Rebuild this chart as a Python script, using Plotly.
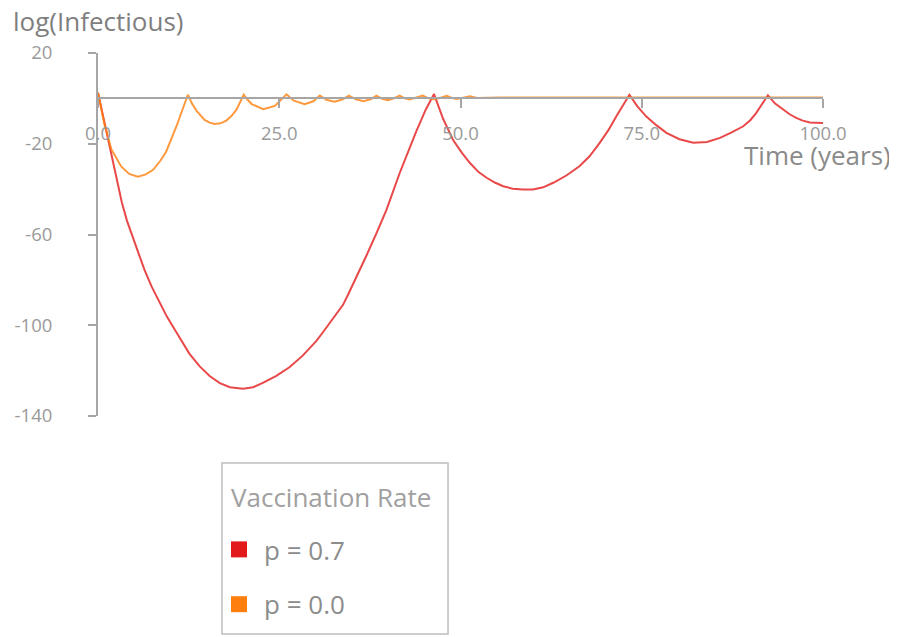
import plotly.graph_objects as go

# ---- data ----
red_t = [0, 0.7, 1.4, 2.3, 3.3, 4.0, 4.8, 5.6, 6.4, 7.4, 8.5, 9.5, 10.6, 11.6, 12.6, 14.0,
         15.4, 16.8, 18.2, 20.0, 21.4, 22.8, 24.6, 26.4, 27.3, 28.2, 29.1, 30.1, 31.0,
         32.0, 32.9, 33.8, 34.6, 35.4, 36.2, 37.0, 38.4, 39.8, 41.6, 43.9, 45.2, 46.35,
         47.6, 49.0, 50.2, 51.3, 52.5, 53.6, 54.8, 55.9, 57.2, 58.6, 60.0, 61.4, 62.8,
         64.6, 66.4, 67.8, 69.2, 70.4, 71.5, 72.4, 73.3, 74.4, 75.6, 77.0, 78.4, 80.2,
         82.1, 84.0, 85.8, 87.4, 89.0, 90.0, 90.8, 91.6, 92.4, 93.4, 94.5, 95.4, 96.3,
         97.2, 98.2, 99.1, 100]
red_v = [2.5, -8, -19, -32, -46, -54, -61, -68.5, -75.5, -83, -90, -96.2, -102, -107.5,
         -112.5, -118, -122.4, -125.5, -127.3, -128, -127.3, -125.3, -122.3, -118.5,
         -116.2, -113.5, -110.4, -107, -103.2, -99, -95.2, -91, -85.8, -80.5, -75,
         -69.5, -59.5, -49, -33, -14.5, -5, 1.9, -9, -18.5, -24, -28.5, -32.5, -35,
         -37.2, -38.7, -39.8, -40.2, -40.2, -39.2, -37.2, -34, -29.9, -25.5, -19.6, -14,
         -7.9, -3, 1.6, -3.5, -7.9, -11.8, -15.2, -18, -19.6, -19.2, -17.4, -15, -12.3,
         -9.5, -6.4, -2.5, 1.3, -2.3, -5, -7, -8.6, -9.8, -10.6, -10.8, -10.8]

orange_t = [0, 0.9, 1.85, 3.2, 4.3, 5.5, 6.6, 7.6, 8.6, 9.4, 10.8, 11.7, 12.4, 13.0, 13.6,
            14.7, 15.4, 16.1, 16.9, 17.7, 18.4, 19.1, 20.1, 20.6, 21.2, 22.8, 24.4, 26.0,
            27.0, 28.5, 29.7, 30.6, 31.5, 32.6, 33.7, 34.6, 35.6, 36.6, 37.6, 38.4, 39.2,
            40.0, 40.8, 41.6, 42.3, 43.0, 43.9, 44.8, 45.5, 46.2, 47.2, 48.1, 48.8, 49.4,
            50.4, 51.3, 52.3, 53.5, 54.3, 55.2, 60, 70, 80, 90, 100]
orange_v = [2.5, -11.6, -22.5, -30, -33.3, -34.5, -33.5, -31.5, -27.5, -23.5, -12.5, -4.5,
            1.6, -2.5, -5.5, -9.5, -10.7, -11.3, -11.0, -9.8, -7.8, -5, 1.6, -0.5, -2.5,
            -4.8, -3.3, 1.8, -1, -2.6, -1.3, 1.3, -0.6, -1.5, -0.5, 1.2, -0.4, -1.2, -0.4,
            1.2, -0.2, -0.8, 0, 1.2, 0, -0.5, 0.2, 1.2, 0.1, -0.4, 0.2, 1.1, 0.2, -0.3,
            0.3, 0.9, 0.2, 0.3, 0.6, 0.4, 0.4, 0.4, 0.4, 0.4, 0.4]

series_names = ["p = 0.7", "p = 0.0"]
line_colors = ["rgba(228,26,28,0.8)", "rgba(255,127,14,0.8)"]
legend_colors = ["#e31a1c", "#ff7f0e"]

y_ticks = [20, -20, -60, -100, -140]
y_tick_text = ["20", "-20", "-60", "-100", "-140"]
x_ticks = [0, 25, 50, 75, 100]

FONT = "Open Sans"
GRAY = "#a6a6a6"

fig = go.Figure()
for name, t, v, lc in zip(series_names, [red_t, orange_t], [red_v, orange_v], line_colors):
    fig.add_trace(go.Scatter(x=t, y=v, mode="lines", name=name,
                             line=dict(color=lc, width=2), showlegend=False,
                             hoverinfo="skip"))
# legend entries (square swatches)
for i, (name, c) in enumerate(zip(series_names, legend_colors)):
    fig.add_trace(go.Scatter(x=[None], y=[None], mode="markers", name=name,
                             legendgroup=f"g{i}",
                             marker=dict(symbol="square", size=16, color=c)))

# page body has an 8px margin: figure is drawn 8px in from the top-left corner
fig.update_layout(
    width=889, height=629,
    margin=dict(l=90, r=74, t=45, b=221, autoexpand=False),
    paper_bgcolor="white", plot_bgcolor="white",
    font=dict(family=FONT, color="#8c8c8c"),
    showlegend=True,
    legend=dict(
        font=dict(size=26, color="#8c8c8c"),
        x=0.160, y=-0.303, xanchor="left", yanchor="top",
        borderwidth=0, bgcolor="rgba(0,0,0,0)",
        tracegroupgap=18, itemwidth=40,
    ),
    xaxis=dict(
        range=[0, 100], tickvals=x_ticks, tickformat=".1f",
        anchor="free", position=0.875,
        showline=True, linecolor=GRAY, linewidth=2,
        ticks="outside", ticklen=9, tickcolor=GRAY, tickwidth=2,
        showgrid=False, zeroline=False, automargin=False,
        tickfont=dict(size=18.5, color="#9a9a9a"), ticklabelstandoff=9,
    ),
    yaxis=dict(
        range=[-140, 20], tickvals=y_ticks, ticktext=y_tick_text,
        showline=True, linecolor=GRAY, linewidth=2,
        ticks="outside", ticklen=8, tickcolor=GRAY, tickwidth=2,
        showgrid=False, zeroline=False, automargin=False,
        tickfont=dict(size=18.5, color="#9a9a9a"), ticklabelstandoff=32,
    ),
    shapes=[
        dict(type="rect", xref="paper", yref="paper",
             x0=0.171, x1=0.4828, y0=-0.6006, y1=-0.1295,
             line=dict(color="#bdbdbd", width=1.5), fillcolor="rgba(0,0,0,0)"),
    ],
    annotations=[
        dict(text="log(Infectious)", xref="paper", yref="paper", x=-0.1200, y=1.088,
             xanchor="left", yanchor="middle", showarrow=False,
             font=dict(size=26, color="#7f7f7f")),
        dict(text="Time (years)", xref="paper", yref="paper", x=1.0966, y=0.719,
             xanchor="right", yanchor="middle", showarrow=False,
             font=dict(size=26, color="#8a8a8a")),
        dict(text="Vaccination Rate", xref="paper", yref="paper", x=0.1807, y=-0.2231,
             xanchor="left", yanchor="middle", showarrow=False,
             font=dict(size=26, color="#a0a0a0")),
    ],
)

fig.write_html("out.html")
